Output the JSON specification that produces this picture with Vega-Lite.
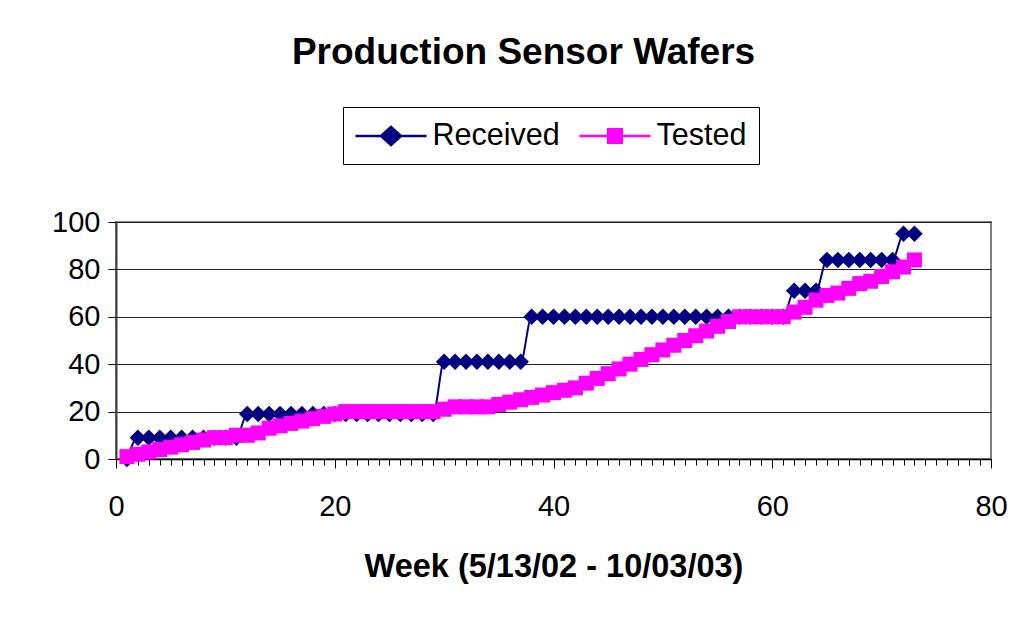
{
  "$schema": "https://vega.github.io/schema/vega-lite/v6.json",
  "autosize": {"type": "none"},
  "padding": {"left": 116, "top": 222, "right": 35, "bottom": 158},
  "width": 875,
  "height": 237,
  "background": "white",
  "title": {"text": "Production Sensor Wafers", "font": "Liberation Sans", "fontSize": 37, "fontWeight": "bold", "color": "black", "anchor": "middle", "dx": -30, "offset": 35},
  "data": {"values": [
    {"week": 1, "Received": 0, "Tested": 1},
    {"week": 2, "Received": 9, "Tested": 2},
    {"week": 3, "Received": 9, "Tested": 3},
    {"week": 4, "Received": 9, "Tested": 4},
    {"week": 5, "Received": 9, "Tested": 5},
    {"week": 6, "Received": 9, "Tested": 6},
    {"week": 7, "Received": 9, "Tested": 7},
    {"week": 8, "Received": 9, "Tested": 8},
    {"week": 9, "Received": 9, "Tested": 9},
    {"week": 10, "Received": 9, "Tested": 9},
    {"week": 11, "Received": 9, "Tested": 10},
    {"week": 12, "Received": 19, "Tested": 10},
    {"week": 13, "Received": 19, "Tested": 11},
    {"week": 14, "Received": 19, "Tested": 13},
    {"week": 15, "Received": 19, "Tested": 14},
    {"week": 16, "Received": 19, "Tested": 15},
    {"week": 17, "Received": 19, "Tested": 16},
    {"week": 18, "Received": 19, "Tested": 17},
    {"week": 19, "Received": 19, "Tested": 18},
    {"week": 20, "Received": 19, "Tested": 19},
    {"week": 21, "Received": 19, "Tested": 20},
    {"week": 22, "Received": 19, "Tested": 20},
    {"week": 23, "Received": 19, "Tested": 20},
    {"week": 24, "Received": 19, "Tested": 20},
    {"week": 25, "Received": 19, "Tested": 20},
    {"week": 26, "Received": 19, "Tested": 20},
    {"week": 27, "Received": 19, "Tested": 20},
    {"week": 28, "Received": 19, "Tested": 20},
    {"week": 29, "Received": 19, "Tested": 20},
    {"week": 30, "Received": 41, "Tested": 21},
    {"week": 31, "Received": 41, "Tested": 22},
    {"week": 32, "Received": 41, "Tested": 22},
    {"week": 33, "Received": 41, "Tested": 22},
    {"week": 34, "Received": 41, "Tested": 22},
    {"week": 35, "Received": 41, "Tested": 23},
    {"week": 36, "Received": 41, "Tested": 24},
    {"week": 37, "Received": 41, "Tested": 25},
    {"week": 38, "Received": 60, "Tested": 26},
    {"week": 39, "Received": 60, "Tested": 27},
    {"week": 40, "Received": 60, "Tested": 28},
    {"week": 41, "Received": 60, "Tested": 29},
    {"week": 42, "Received": 60, "Tested": 30},
    {"week": 43, "Received": 60, "Tested": 32},
    {"week": 44, "Received": 60, "Tested": 34},
    {"week": 45, "Received": 60, "Tested": 36},
    {"week": 46, "Received": 60, "Tested": 38},
    {"week": 47, "Received": 60, "Tested": 40},
    {"week": 48, "Received": 60, "Tested": 42},
    {"week": 49, "Received": 60, "Tested": 44},
    {"week": 50, "Received": 60, "Tested": 46},
    {"week": 51, "Received": 60, "Tested": 48},
    {"week": 52, "Received": 60, "Tested": 50},
    {"week": 53, "Received": 60, "Tested": 52},
    {"week": 54, "Received": 60, "Tested": 54},
    {"week": 55, "Received": 60, "Tested": 56},
    {"week": 56, "Received": 60, "Tested": 58},
    {"week": 57, "Received": 60, "Tested": 60},
    {"week": 58, "Received": 60, "Tested": 60},
    {"week": 59, "Received": 60, "Tested": 60},
    {"week": 60, "Received": 60, "Tested": 60},
    {"week": 61, "Received": 60, "Tested": 60},
    {"week": 62, "Received": 71, "Tested": 62},
    {"week": 63, "Received": 71, "Tested": 64},
    {"week": 64, "Received": 71, "Tested": 67},
    {"week": 65, "Received": 84, "Tested": 69},
    {"week": 66, "Received": 84, "Tested": 70},
    {"week": 67, "Received": 84, "Tested": 72},
    {"week": 68, "Received": 84, "Tested": 74},
    {"week": 69, "Received": 84, "Tested": 75},
    {"week": 70, "Received": 84, "Tested": 77},
    {"week": 71, "Received": 84, "Tested": 79},
    {"week": 72, "Received": 95, "Tested": 81},
    {"week": 73, "Received": 95, "Tested": 84}
  ]},
  "transform": [{"fold": ["Received", "Tested"], "as": ["series", "value"]}],
  "encoding": {
    "x": {
      "field": "week", "type": "quantitative",
      "scale": {"domain": [0, 80], "nice": false, "zero": false},
      "axis": {
        "values": [0,1,2,3,4,5,6,7,8,9,10,11,12,13,14,15,16,17,18,19,20,21,22,23,24,25,26,27,28,29,30,31,32,33,34,35,36,37,38,39,40,41,42,43,44,45,46,47,48,49,50,51,52,53,54,55,56,57,58,59,60,61,62,63,64,65,66,67,68,69,70,71,72,73,74,75,76,77,78,79,80],
        "labelExpr": "datum.value % 20 === 0 ? datum.label : ''",
        "labelFlush": false,
        "labelOverlap": false,
        "labelFont": "Liberation Sans",
        "labelFontSize": 29,
        "labelColor": "black",
        "labelPadding": 24,
        "tickSize": {"condition": {"test": "datum.value % 20 === 0", "value": 9}, "value": 6},
        "tickColor": "black",
        "domainColor": "black",
        "domainWidth": 1.5,
        "grid": false,
        "title": "Week (5/13/02 - 10/03/03)",
        "titleFont": "Liberation Sans",
        "titleFontSize": 32.5,
        "titleFontWeight": "bold",
        "titleColor": "black",
        "titlePadding": 29
      }
    },
    "y": {
      "field": "value", "type": "quantitative",
      "scale": {"domain": [0, 100], "nice": false},
      "axis": {
        "values": [0, 20, 40, 60, 80, 100],
        "labelFlush": false,
        "labelFont": "Liberation Sans",
        "labelFontSize": 29,
        "labelColor": "black",
        "labelPadding": 8,
        "tickSize": 8,
        "tickColor": "black",
        "domainColor": "#404040",
        "domainWidth": 2,
        "grid": true,
        "gridColor": "#222222",
        "gridWidth": 1,
        "title": null
      }
    }
  },
  "layer": [
    {
      "transform": [{"filter": "datum.series === 'Received'"}],
      "mark": {"type": "line", "color": "#000080", "strokeWidth": 2, "interpolate": "monotone"}
    },
    {
      "transform": [{"filter": "datum.series === 'Received'"}],
      "mark": {"type": "point", "shape": "diamond", "filled": true, "size": 272, "color": "#000080", "opacity": 1}
    },
    {
      "transform": [{"filter": "datum.series === 'Tested'"}],
      "mark": {"type": "line", "color": "#FF00FF", "strokeWidth": 2, "interpolate": "monotone"}
    },
    {
      "transform": [{"filter": "datum.series === 'Tested'"}],
      "mark": {"type": "point", "shape": "square", "filled": true, "size": 225, "color": "#FF00FF", "opacity": 1}
    },
    {
      "transform": [{"filter": "datum.week < 0"}],
      "mark": {"type": "point", "filled": true, "size": 900, "opacity": 1, "strokeWidth": 2.5},
      "encoding": {
        "shape": {"field": "series", "type": "nominal", "scale": {"domain": ["Received", "Tested"], "range": ["M-1.1,0L3.633,0M0.6,0L1.267,-0.6L1.933,0L1.267,0.6Z", "M-1.1,0L3.633,0M0.817,-0.45L1.717,-0.45L1.717,0.45L0.817,0.45Z"]}, "legend": {"title": null}},
        "fill": {"field": "series", "type": "nominal", "scale": {"domain": ["Received", "Tested"], "range": ["#000080", "#FF00FF"]}, "legend": {"title": null}},
        "stroke": {"field": "series", "type": "nominal", "scale": {"domain": ["Received", "Tested"], "range": ["#000080", "#FF00FF"]}, "legend": {"title": null}}
      }
    }
  ],
  "config": {
    "view": {"stroke": "#808080", "strokeWidth": 2},
    "legend": {
      "orient": "none",
      "legendX": 227,
      "legendY": -115,
      "direction": "horizontal",
      "strokeColor": "#000000",
      "strokeWidth": 1,
      "fillColor": "white",
      "padding": 12.5,
      "labelFont": "Liberation Sans",
      "labelFontSize": 30.5,
      "labelColor": "black",
      "labelOffset": 44,
      "labelLimit": 400,
      "columnPadding": 14,
      "symbolSize": 900,
      "symbolStrokeWidth": 2.5,
      "symbolOpacity": 1
    }
  }
}
